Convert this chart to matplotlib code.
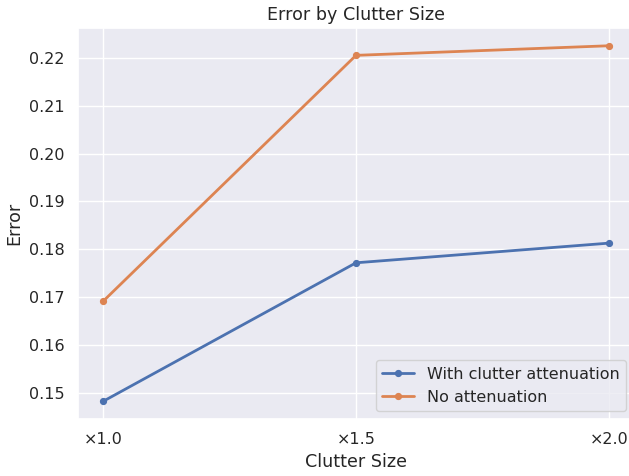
import numpy as np
import matplotlib
matplotlib.use("Agg")
import matplotlib.pyplot as plt
import seaborn as sns

sns.set_theme(font_scale=1.05)

sizes = ["×1.0", "×1.5", "×2.0"]
with_att = [0.1483, 0.1772, 0.1813]
no_att = [0.1692, 0.2205, 0.2225]

x = np.arange(len(sizes))
fig, ax = plt.subplots(figsize=(6.29, 4.76), dpi=100)
ax.plot(x, with_att, marker="o", markersize=4.2, linewidth=2, label="With clutter attenuation")
ax.plot(x, no_att, marker="o", markersize=4.2, linewidth=2, label="No attenuation")
ax.set_xticks(x)
ax.set_xticklabels(sizes)
ax.set_title("Error by Clutter Size")
ax.set_xlabel("Clutter Size")
ax.set_ylabel("Error")
ax.legend(loc="lower right")
# the reference is cropped at the right edge of the axes
fig.subplots_adjust(left=0.124, right=1.008, top=0.9412, bottom=0.1197)
fig.savefig("out.png")
